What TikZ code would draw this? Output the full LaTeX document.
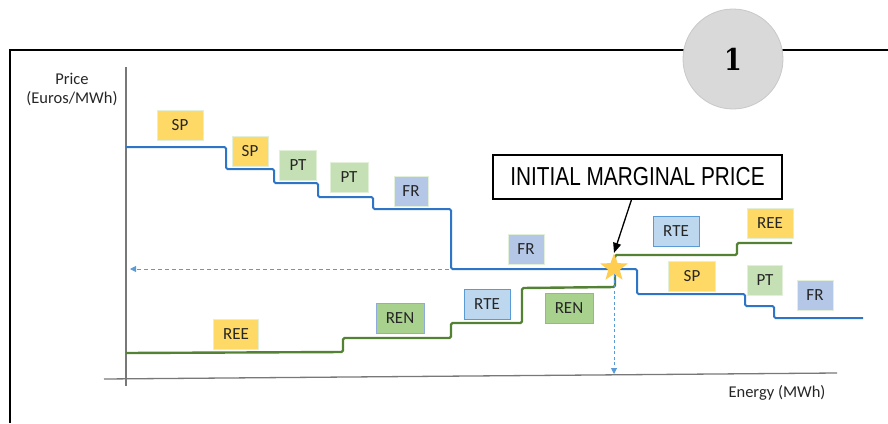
\documentclass[tikz,border=0pt]{standalone}
\usepackage{fontspec}
\usetikzlibrary{shapes.geometric,arrows.meta}
\newfontfamily\carlito{Carlito}
\newfontfamily\narrowsans[FakeStretch=0.8]{Liberation Sans}
\newfontfamily\heavyserif[FakeStretch=0.85]{DejaVu Serif}
\definecolor{ylwfill}{RGB}{255,217,102}
\definecolor{ptfill}{RGB}{197,224,180}
\definecolor{frfill}{RGB}{180,199,231}
\definecolor{renfill}{RGB}{169,209,142}
\definecolor{rtefill}{RGB}{189,215,238}
\definecolor{paleborder}{RGB}{226,240,217}
\definecolor{renborder}{RGB}{143,170,220}
\definecolor{rteborder}{RGB}{91,155,213}
\definecolor{bluecurve}{RGB}{46,117,200}
\definecolor{greencurve}{RGB}{84,130,53}
\definecolor{dashblue}{RGB}{91,155,213}
\definecolor{axisgray}{RGB}{120,120,120}
\definecolor{txt}{RGB}{38,38,38}
\definecolor{circfill}{RGB}{217,217,217}
\definecolor{circdraw}{RGB}{200,200,200}
\definecolor{starfill}{RGB}{255,205,80}
\tikzset{
  lab/.style={draw, line width=1, minimum height=30, inner sep=0, text=txt,
    font=\carlito\fontsize{17}{17}\selectfont},
  ylw/.style={lab, fill=ylwfill, draw=paleborder},
  ptb/.style={lab, fill=ptfill, draw=paleborder},
  frb/.style={lab, fill=frfill, draw=paleborder},
  renb/.style={lab, fill=renfill, draw=renborder},
  rteb/.style={lab, fill=rtefill, draw=rteborder},
  axislab/.style={text=txt, font=\carlito\fontsize{16.5}{19}\selectfont, align=center},
  dasharrow/.style={dashblue, line width=1, dash pattern=on 4pt off 3pt, -{Triangle[length=6pt,width=6pt]}}
}
\begin{document}
\begin{tikzpicture}[x=1pt,y=-1pt]
\useasboundingbox (0,0) rectangle (888,423);
% frame
\draw[black, line width=1.6] (10,423) -- (10,50) -- (888,50);
\node[circle, fill=circfill, draw=circdraw, line width=0.8, minimum size=100, inner sep=0,
  font=\heavyserif\bfseries\fontsize{30}{30}\selectfont] (num) at (733,59) {1};
% axes
\draw[axisgray, line width=1.3] (126,67) -- (126,386);
\draw[axisgray, line width=1.3] (104,379) -- (837,373);
\node[axislab] (ylab) at (72,89) {Price\\(Euros/MWh)};
\node[axislab] (xlab) at (777,393) {Energy (MWh)};
% curves
\draw[bluecurve, line width=2, rounded corners=1.5]
  (126,147) -- (226,147) -- (226,169) -- (274,169) -- (274,183) -- (318,183) -- (318,197)
  -- (373,197) -- (373,209) -- (451,209) -- (451,269) -- (637,269) -- (637,294) -- (745,294)
  -- (745,306) -- (774,306) -- (774,318) -- (863,318);
\draw[greencurve, line width=2.4, rounded corners=1.5]
  (126,353) -- (343,352) -- (343,338) -- (451,338) -- (451,323) -- (522,323) -- (522,288)
  -- (615,287) -- (615,255) -- (737,255) -- (737,243) -- (792,243);
% dashed arrows
\coordinate (hstart) at (449,269);
\coordinate (hend) at (130,269);
\draw[dasharrow] (hstart) -- (hend);
\node[star, star points=5, star point ratio=2.4, minimum size=29, inner sep=0, fill=starfill] (star) at (614,268) {};
\coordinate (vend) at (614,374);
\draw[dasharrow, dash pattern=on 3pt off 2.5pt] (star.south) -- (vend);
% labels
\node[ylw, minimum width=46] (sp1) at (180,125) {SP};
\node[ylw, minimum width=36] (sp2) at (250,151) {SP};
\node[ptb, minimum width=37] (pt1) at (298,165) {PT};
\node[ptb, minimum width=38] (pt2) at (349,177) {PT};
\node[frb, minimum width=34] (fr1) at (411,191) {FR};
\node[frb, minimum width=36] (fr2) at (526,249) {FR};
\node[ylw, minimum width=45] (ree1) at (236,334) {REE};
\node[renb, minimum width=48] (ren1) at (400,318) {REN};
\node[rteb, minimum width=46] (rte1) at (487,304) {RTE};
\node[renb, minimum width=48] (ren2) at (569,308) {REN};
\node[rteb, minimum width=46] (rte2) at (676,231) {RTE};
\node[ylw, minimum width=46] (ree2) at (770,223) {REE};
\node[ylw, minimum width=47] (sp3) at (692,276) {SP};
\node[ptb, minimum width=35] (pt3) at (765,280) {PT};
\node[frb, minimum width=36] (fr3) at (815,295) {FR};
% marginal price box
\node[draw=black, line width=1.3, minimum width=289, minimum height=44, inner sep=0,
  font=\narrowsans\fontsize{26}{26}\selectfont] (imp) at (637.5,177) {INITIAL MARGINAL PRICE};
\draw[black, line width=1.3, -{Triangle[length=10pt,width=8pt]}] ([xshift=-6]imp.south) -- (star.north);
\end{tikzpicture}
\end{document}
